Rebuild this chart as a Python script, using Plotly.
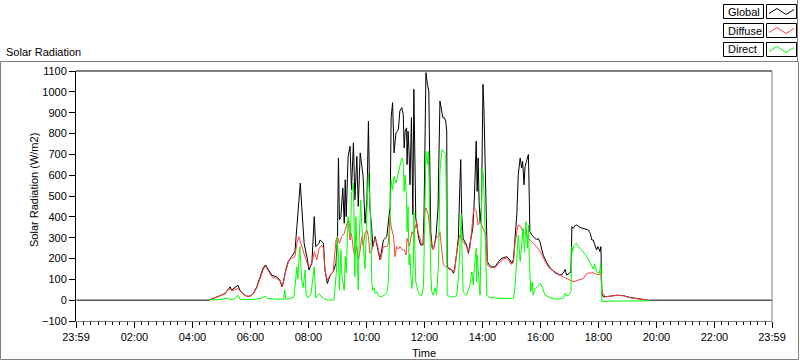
import plotly.graph_objects as go

# ---------------- data ----------------
global_time = ["00:00","04:34","04:44","04:53","05:01","05:07","05:13","05:18","05:21","05:26","05:34","05:38","05:44","05:52","05:59",
"06:06","06:13","06:20","06:26","06:31","06:37","06:44","06:54","07:01","07:05","07:08","07:13","07:18","07:25","07:32","07:36",
"07:40","07:43","07:46","07:51","07:58","08:01","08:07","08:12","08:15","08:22","08:24","08:27","08:31","08:34","08:39","08:45",
"08:51","08:57","09:00","09:02","09:04","09:07","09:11","09:14","09:16","09:18","09:22","09:26","09:29","09:33","09:36","09:40",
"09:43","09:47","09:53","09:57","10:01","10:04","10:07","10:11","10:13","10:18","10:24","10:28","10:35","10:42","10:49","10:51",
"10:54","10:57","11:01","11:06","11:09","11:13","11:16","11:18","11:20","11:23","11:24","11:26","11:28","11:30","11:33","11:35",
"11:36","11:38","11:40","11:42","11:45","11:48","11:52","11:57","11:59","12:01","12:03","12:06","12:09","12:10","12:11","12:13",
"12:16","12:20","12:24","12:26","12:28","12:32","12:36","12:38","12:41","12:44","12:46","12:47","12:49","12:56","13:00","13:03",
"13:07","13:10","13:13","13:15","13:17","13:20","13:27","13:31","13:34","13:40","13:43","13:47","13:49","13:51","13:53","13:55",
"13:58","14:01","14:03","14:05","14:07","14:10","14:14","14:19","14:26","14:33","14:40","14:50","14:57","15:00","15:04","15:07",
"15:11","15:14","15:18","15:21","15:23","15:26","15:28","15:31","15:35","15:37","15:38","15:42","15:49","15:52","15:55","15:59",
"16:02","16:06","16:13","16:20","16:30","16:40","16:47","16:51","16:54","16:59","17:03","17:05","17:08","17:11","17:15","17:22",
"17:32","17:39","17:43","17:46","17:49","17:53","17:56","17:59","18:03","18:05","18:07","18:10","18:17","18:24","18:38","18:51",
"19:05","19:19","19:33","19:43","23:59"]
global_wm2 = [0,0,10,16,25,32,51,64,48,56,72,48,32,19,19,
32,64,112,153,169,145,120,112,96,64,88,145,185,209,233,353,
482,562,450,273,193,145,177,401,257,273,289,280,273,145,80,120,
136,177,305,683,386,400,538,369,578,401,690,739,530,755,482,690,
450,707,594,369,482,859,450,337,257,305,241,193,289,305,450,875,
948,707,803,819,908,924,892,731,811,827,651,811,715,554,876,426,
410,1012,570,394,345,297,265,265,410,683,1092,1036,1004,811,490,329,
249,257,313,361,442,956,892,876,876,859,811,169,153,145,129,160,
233,297,538,675,410,297,265,225,270,345,474,763,522,683,474,377,
450,1036,924,683,361,185,169,160,160,185,201,209,193,177,193,281,
410,602,683,634,667,554,640,667,699,474,329,313,297,289,297,280,
250,215,180,155,132,120,129,148,120,128,136,353,345,357,361,349,
341,337,321,289,289,257,241,257,233,257,32,16,16,19,24,22,
13,8,5,0,0]

diffuse_time = ["04:34","04:44","04:53","05:01","05:07","05:13","05:18","05:22","05:26","05:34","05:38","05:44","05:52","05:59",
"06:06","06:13","06:20","06:26","06:31","06:37","06:44","06:54","07:01","07:06","07:08","07:13","07:20","07:25","07:32","07:36",
"07:40","07:44","07:49","07:54","08:00","08:03","08:08","08:12","08:17","08:22","08:27","08:31","08:34","08:39","08:45","08:51",
"08:57","09:00","09:04","09:09","09:14","09:19","09:22","09:26","09:29","09:33","09:36","09:40","09:43","09:47","09:50","09:53",
"09:57","10:01","10:04","10:07","10:11","10:13","10:18","10:22","10:27","10:29","10:35","10:42","10:45","10:49","10:51","10:56",
"10:59","11:02","11:06","11:09","11:15","11:18","11:22","11:24","11:29","11:34","11:37","11:40","11:44","11:47","11:51","11:54",
"11:58","12:01","12:03","12:08","12:11","12:15","12:18","12:22","12:25","12:29","12:32","12:36","12:39","12:44","12:53","13:00",
"13:03","13:07","13:10","13:13","13:17","13:20","13:27","13:31","13:34","13:40","13:42","13:47","13:49","13:51","13:55","14:01",
"14:07","14:10","14:16","14:26","14:40","14:50","15:00","15:04","15:07","15:11","15:14","15:18","15:21","15:24","15:31","15:35",
"15:45","15:52","15:59","16:06","16:13","16:20","16:34","16:47","17:01","17:08","17:18","17:29","17:36","17:49","17:56","18:02",
"18:05","18:07","18:14","18:24","18:38","18:51","19:05","19:19","19:33","19:43"]
diffuse_wm2 = [0,9,14,22,30,48,55,45,50,56,45,30,18,18,
30,60,105,145,164,140,112,104,92,67,82,140,193,201,209,273,
305,273,241,201,160,160,185,233,193,249,262,250,145,96,120,136,
289,305,273,305,321,369,386,289,320,241,209,260,193,241,305,260,
321,337,305,225,240,257,297,270,209,193,257,257,270,401,353,305,
209,257,245,257,241,240,217,297,260,329,313,345,377,320,297,265,
280,426,442,410,329,265,241,281,305,305,329,233,169,160,153,136,
150,233,281,313,300,281,257,233,249,410,442,430,394,361,377,345,
313,169,156,156,193,204,172,180,265,329,361,355,345,329,313,297,
273,257,235,200,170,150,129,112,96,88,96,104,129,132,125,122,
129,40,16,18,23,21,12,7,4,0]

direct_time = ["04:34","04:40","04:57","05:09","05:13","05:18","05:26","05:34","05:38","05:51","06:11","06:24","06:30","06:36",
"06:44","07:01","07:09","07:11","07:13","07:22","07:30","07:36","07:38","07:42","07:46","07:49","07:53","07:55","07:59","08:05",
"08:12","08:15","08:22","08:27","08:31","08:41","08:53","08:58","09:00","09:02","09:04","09:07","09:09","09:14","09:16","09:18",
"09:20","09:22","09:24","09:27","09:29","09:33","09:34","09:36","09:38","09:40","09:43","09:45","09:48","09:50","09:53","09:57",
"10:01","10:04","10:05","10:09","10:11","10:13","10:16","10:18","10:22","10:24","10:28","10:34","10:42","10:45","10:49","10:51",
"10:54","10:57","11:01","11:06","11:09","11:13","11:16","11:18","11:20","11:23","11:24","11:26","11:28","11:30","11:32","11:34",
"11:37","11:38","11:40","11:42","11:47","11:51","11:55","11:58","12:01","12:03","12:06","12:08","12:10","12:11","12:13","12:15",
"12:18","12:22","12:25","12:29","12:31","12:32","12:36","12:39","12:42","12:44","12:46","12:47","12:53","13:03","13:07","13:10",
"13:13","13:16","13:18","13:20","13:27","13:31","13:34","13:38","13:41","13:42","13:44","13:47","13:48","13:49","13:51","13:53",
"13:55","13:57","13:59","14:02","14:04","14:06","14:09","14:12","14:22","14:57","15:04","15:07","15:11","15:14","15:18","15:21",
"15:24","15:27","15:30","15:33","15:35","15:37","15:40","15:43","15:45","15:49","15:55","16:00","16:05","16:09","16:20","16:34",
"16:47","16:51","16:54","16:59","17:03","17:05","17:06","17:09","17:14","17:18","17:25","17:36","17:46","17:49","17:52","17:56",
"18:02","18:05","18:07","18:10","18:17","19:47"]
direct_wm2 = [0,2,3,6,10,4,5,24,5,3,5,10,19,8,
6,4,5,48,5,8,15,160,100,257,96,60,145,30,10,30,
160,10,30,20,8,0,2,145,305,200,48,241,120,48,209,130,
337,401,380,305,514,562,420,112,401,250,48,289,482,369,257,150,
434,610,560,369,80,48,60,32,40,24,16,20,32,80,401,578,
530,594,562,610,651,683,660,522,600,490,329,450,169,220,104,56,
169,426,250,88,40,24,24,72,458,715,651,715,522,265,136,40,
24,60,24,169,410,618,723,715,707,699,329,24,16,16,24,104,
233,410,200,40,24,50,70,136,72,120,185,249,88,217,150,56,
24,281,634,602,450,281,24,16,11,8,10,56,217,313,185,281,
345,230,377,249,361,185,40,88,24,56,72,80,56,24,12,4,
10,32,20,25,40,257,230,262,273,257,241,209,160,150,175,136,
129,177,-8,-8,-5,-3]

x_tick_labels = ["23:59","02:00","04:00","06:00","08:00","10:00","12:00",
                 "14:00","16:00","18:00","20:00","22:00","23:59"]
x_tick_minutes = [-1,120,240,360,480,600,720,840,960,1080,1200,1320,1439]
y_ticks = list(range(-100, 1101, 100))

series_names = ["Global", "Diffuse", "Direct"]
series_colors = ["#000000", "#ff4040", "#00ff00"]


def to_min(s):
    h, m = s.split(":")
    return int(h) * 60 + int(m)


# ---------------- figure ----------------
W, H = 800, 361
L, R, T, B = 76, 28, 71, 40
PW, PH = W - L - R, H - T - B


def px(x):
    return (x - L) / PW


def py(y):
    return (H - B - y) / PH


FONT = "Liberation Sans, Arial, sans-serif"

fig = go.Figure()
for name, tt, vv, col in zip(series_names,
                             [global_time, diffuse_time, direct_time],
                             [global_wm2, diffuse_wm2, direct_wm2],
                             series_colors):
    fig.add_trace(go.Scatter(x=[to_min(t) for t in tt], y=vv, mode="lines",
                             name=name, line=dict(color=col, width=1),
                             hoverinfo="skip"))

fig.update_layout(
    width=W, height=H,
    margin=dict(l=L, r=R, t=T, b=B, pad=0),
    paper_bgcolor="white", plot_bgcolor="white",
    showlegend=False,
    font=dict(family=FONT, size=11, color="black"),
)
fig.update_xaxes(range=[-1, 1439], tickmode="array", tickvals=x_tick_minutes,
                 ticktext=x_tick_labels, ticks="outside", ticklen=6,
                 tickcolor="black", showgrid=False, zeroline=False,
                 showline=True, linecolor="#808080", linewidth=1,
                 minor=dict(tickmode="linear", tick0=0, dtick=15, ticks="outside",
                            ticklen=3, tickcolor="black", showgrid=False),
                 tickfont=dict(family=FONT, size=11, color="black"))
fig.update_yaxes(range=[-100, 1100], tickmode="array", tickvals=y_ticks,
                 ticks="outside", ticklen=6, tickcolor="black",
                 showgrid=False, zeroline=False, showline=True,
                 linecolor="black", linewidth=1,
                 tickfont=dict(family=FONT, size=11, color="black"))

shapes = []
# plot frame: top black, right gray
shapes.append(dict(type="line", xref="paper", yref="paper", x0=0, x1=1, y0=1, y1=1,
                   line=dict(color="black", width=1)))
shapes.append(dict(type="line", xref="paper", yref="paper", x0=1, x1=1, y0=0, y1=1,
                   line=dict(color="#808080", width=1)))
# outer panel frame
shapes.append(dict(type="rect", xref="paper", yref="paper",
                   x0=px(0.5), x1=px(798.5), y0=py(359.5), y1=py(61.5),
                   line=dict(color="#808080", width=1)))
shapes.append(dict(type="line", xref="paper", yref="paper",
                   x0=px(797.5), x1=px(797.5), y0=py(0), y1=py(61.5),
                   line=dict(color="#808080", width=1)))

annotations = []
row_tops = [4.5, 23.5, 42.5]
for name, col, top in zip(series_names, series_colors, row_tops):
    bot = top + 14
    shapes.append(dict(type="rect", xref="paper", yref="paper",
                       x0=px(723.5), x1=px(763.5), y0=py(bot), y1=py(top),
                       line=dict(color="black", width=1), fillcolor="white"))
    shapes.append(dict(type="rect", xref="paper", yref="paper",
                       x0=px(766.5), x1=px(796.5), y0=py(bot), y1=py(top),
                       line=dict(color="black", width=1), fillcolor="white"))
    pts = [(769, top + 9), (777, top + 4), (786, top + 10), (794, top + 5)]
    path = "M " + " L ".join(f"{px(a):.5f},{py(b):.5f}" for a, b in pts)
    shapes.append(dict(type="path", xref="paper", yref="paper", path=path,
                       line=dict(color=col, width=1)))
    annotations.append(dict(text=name, xref="paper", yref="paper",
                            x=px(725.5), y=py(top + 7), xanchor="left", yanchor="middle",
                            showarrow=False, font=dict(family=FONT, size=11, color="black")))

annotations.append(dict(text="Solar Radiation", xref="paper", yref="paper",
                        x=px(4), y=py(52), xanchor="left", yanchor="middle",
                        showarrow=False, font=dict(family=FONT, size=11, color="black")))
annotations.append(dict(text="Solar Radiation (W/m2)", xref="paper", yref="paper",
                        x=px(34), y=py(190), xanchor="center", yanchor="middle",
                        textangle=-90, showarrow=False,
                        font=dict(family=FONT, size=11, color="black")))
annotations.append(dict(text="Time", xref="paper", yref="paper",
                        x=px(424), y=py(353), xanchor="center", yanchor="middle",
                        showarrow=False, font=dict(family=FONT, size=11, color="black")))

fig.update_layout(shapes=shapes, annotations=annotations)
fig.write_html("out.html",
               config={"displayModeBar": False},
               post_script="document.body.style.margin='0px';"
                           "document.body.style.overflow='hidden';")
